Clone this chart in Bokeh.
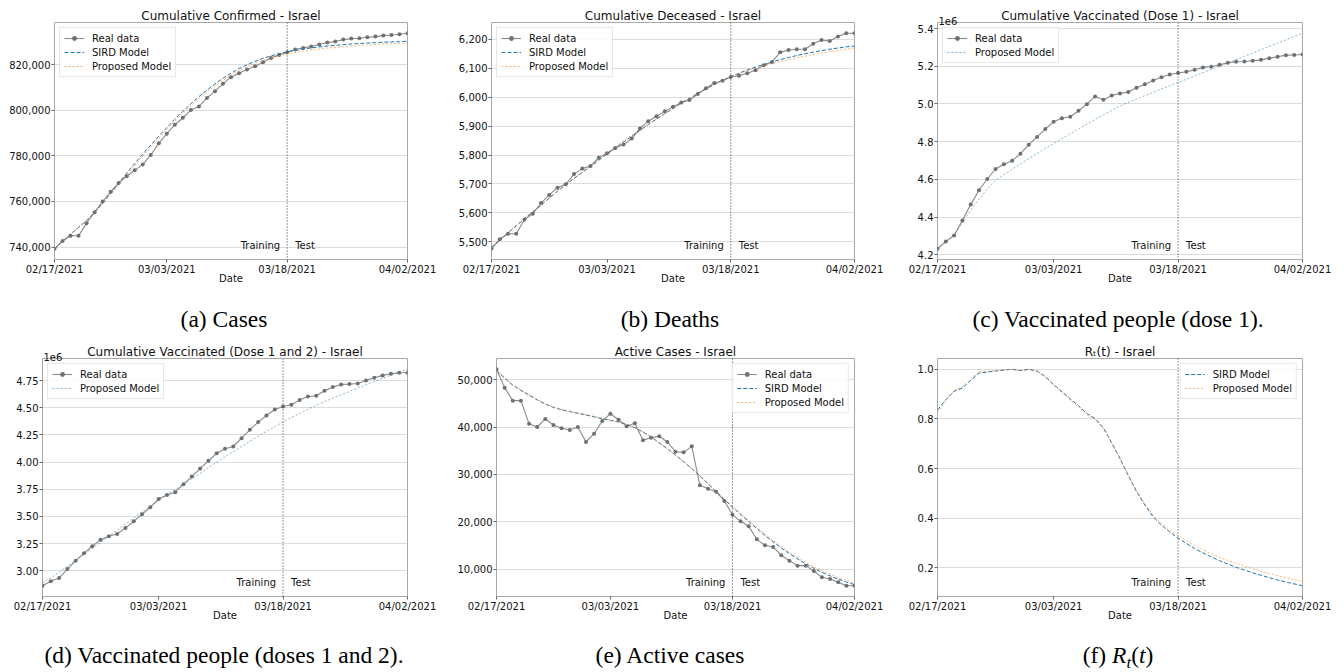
import pandas as pd
from bokeh.plotting import figure
from bokeh.models import (Range1d, FixedTicker, NumeralTickFormatter, CustomJSTickFormatter,
                          DatetimeTickFormatter, Span, Label, Legend, LegendItem, Div, Title)
from bokeh.layouts import column, row
from bokeh.embed import file_html
from bokeh.resources import INLINE

# ---------------- data ----------------
start_date = "2021-02-17"
end_date = "2021-04-02"
split_date = "2021-03-18"
x_tick_dates = ["2021-02-17", "2021-03-03", "2021-03-18", "2021-04-02"]
dates = pd.date_range(start_date, end_date, freq="D")

confirmed_real = [739270, 742620, 744950, 744950, 750490, 755300, 759960, 764190, 768120, 771040,
                  773660, 776140, 780360, 785460, 789690, 793620, 796680, 800040, 801640, 805280,
                  808340, 811550, 814460, 816210, 817810, 819270, 821020, 822910, 824230, 825390,
                  826560, 827290, 827870, 828750, 829620, 830060, 830930, 831370, 831510, 831950,
                  832240, 832680, 832970, 833260, 833700]
confirmed_sird = [739300, 742500, 745600, 748600, 751700, 755300, 759300, 763600, 768000, 772400,
                  776600, 780700, 784700, 788600, 792400, 796000, 799500, 802800, 805900, 808800,
                  811500, 814000, 816200, 818200, 819900, 821400, 822700, 823800, 824800, 825500,
                  826200, 826800, 827300, 827700, 828100, 828400, 828700, 829000, 829200, 829400,
                  829600, 829800, 829900, 830000, 830200]
confirmed_prop = [739300, 742600, 745800, 748800, 751700, 755000, 758800, 762900, 767200, 771500,
                  775700, 779800, 783800, 787700, 791500, 795100, 798600, 801900, 805000, 807900,
                  810600, 813100, 815300, 817300, 819000, 820500, 821800, 822900, 823800, 824600,
                  825300, 825900, 826400, 826800, 827200, 827500, 827800, 828100, 828300, 828600,
                  828800, 829000, 829100, 829300, 829400]

deaths_real = [5476, 5509, 5528, 5528, 5577, 5597, 5634, 5662, 5687, 5699, 5734, 5753, 5762, 5791,
               5806, 5824, 5836, 5857, 5892, 5917, 5934, 5951, 5967, 5982, 5990, 6011, 6031, 6049,
               6057, 6070, 6074, 6083, 6093, 6110, 6122, 6155, 6163, 6166, 6166, 6185, 6198, 6194,
               6210, 6221, 6221]
deaths_sird = [5480, 5506, 5531, 5555, 5579, 5603, 5626, 5651, 5675, 5697, 5719, 5740, 5760, 5782,
               5803, 5824, 5845, 5865, 5885, 5905, 5924, 5943, 5961, 5979, 5996, 6013, 6029, 6044,
               6058, 6071, 6083, 6094, 6104, 6113, 6122, 6130, 6137, 6144, 6150, 6156, 6161, 6166,
               6170, 6174, 6177]
deaths_prop = [5480, 5507, 5533, 5558, 5582, 5605, 5628, 5652, 5676, 5699, 5721, 5743, 5764, 5786,
               5807, 5828, 5849, 5869, 5888, 5907, 5925, 5943, 5961, 5978, 5995, 6011, 6027, 6042,
               6056, 6069, 6081, 6091, 6100, 6108, 6116, 6123, 6130, 6136, 6142, 6148, 6153, 6158,
               6162, 6166, 6170]

vacc1_real = [4232000, 4271000, 4302000, 4382000, 4466000, 4542000, 4602000, 4655000, 4680000,
              4699000, 4736000, 4784000, 4825000, 4867000, 4906000, 4924000, 4932000, 4964000,
              4999000, 5040000, 5022000, 5045000, 5056000, 5063000, 5086000, 5105000, 5125000,
              5142000, 5156000, 5164000, 5171000, 5181000, 5194000, 5197000, 5208000, 5218000,
              5224000, 5225000, 5229000, 5234000, 5243000, 5250000, 5259000, 5260000, 5262000]
vacc1_prop = [4232000, 4266000, 4302000, 4372000, 4437000, 4495000, 4548000, 4594000, 4625000,
              4654000, 4682000, 4710000, 4737000, 4764000, 4790000, 4816000, 4842000, 4868000,
              4893000, 4918000, 4942000, 4966000, 4989000, 5008000, 5026000, 5044000, 5062000,
              5080000, 5097000, 5114000, 5131000, 5148000, 5166000, 5183000, 5200000, 5218000,
              5235000, 5253000, 5270000, 5288000, 5305000, 5323000, 5340000, 5358000, 5375000]

vacc2_real = [2862000, 2902000, 2932000, 3015000, 3092000, 3160000, 3225000, 3286000, 3317000,
              3338000, 3394000, 3455000, 3520000, 3584000, 3661000, 3698000, 3723000, 3797000,
              3867000, 3941000, 4012000, 4082000, 4123000, 4144000, 4221000, 4298000, 4369000,
              4430000, 4485000, 4513000, 4528000, 4572000, 4605000, 4611000, 4658000, 4691000,
              4716000, 4719000, 4725000, 4753000, 4777000, 4799000, 4814000, 4824000, 4824000]
vacc2_prop = [2885000, 2935000, 2985000, 3040000, 3096000, 3152000, 3207000, 3262000, 3318000,
              3374000, 3430000, 3486000, 3541000, 3596000, 3650000, 3700000, 3748000, 3796000,
              3846000, 3897000, 3949000, 4000000, 4049000, 4097000, 4145000, 4192000, 4238000,
              4283000, 4327000, 4370000, 4410000, 4449000, 4487000, 4523000, 4557000, 4589000,
              4620000, 4651000, 4682000, 4713000, 4743000, 4772000, 4800000, 4828000, 4855000]

active_real = [52260, 48380, 45630, 45630, 40760, 40050, 41750, 40480, 39770, 39420, 40050, 36880,
               38640, 41320, 42870, 41600, 40190, 40830, 37230, 37800, 38080, 36880, 34830, 34690,
               35960, 27710, 27000, 26370, 24390, 21500, 20090, 19030, 16280, 15010, 14660, 12890,
               11760, 10710, 10710, 9580, 8240, 7880, 7180, 6470, 6470]
active_sird = [52000, 50400, 48900, 47800, 46800, 45800, 44900, 44200, 43700, 43300, 42950, 42600,
               42200, 41800, 41450, 41100, 40600, 39900, 39000, 37950, 36700, 35450, 34100, 32700,
               31250, 29650, 28050, 26350, 24700, 23100, 21550, 20050, 18550, 17100, 15750, 14450,
               13250, 12150, 11100, 10150, 9300, 8550, 7850, 7250, 6700]
active_prop = [52000, 50500, 49050, 47950, 46950, 45900, 45000, 44300, 43800, 43400, 43050, 42700,
               42300, 41900, 41500, 41150, 40650, 39950, 39000, 37950, 36700, 35450, 34100, 32750,
               31300, 29750, 28150, 26500, 24850, 23300, 21800, 20300, 18850, 17400, 16050, 14750,
               13550, 12450, 11450, 10500, 9650, 8900, 8200, 7600, 7100]

rt_sird = [0.836, 0.878, 0.912, 0.924, 0.955, 0.985, 0.989, 0.993, 0.997, 1.000, 0.995, 1.000,
           0.993, 0.971, 0.939, 0.910, 0.881, 0.853, 0.822, 0.802, 0.764, 0.704, 0.640, 0.572,
           0.507, 0.453, 0.405, 0.372, 0.344, 0.320, 0.298, 0.278, 0.260, 0.244, 0.229, 0.215,
           0.202, 0.191, 0.180, 0.170, 0.160, 0.151, 0.143, 0.135, 0.128]
rt_prop = [0.825, 0.872, 0.915, 0.930, 0.962, 0.990, 0.992, 0.995, 0.998, 1.000, 0.994, 0.999,
           0.992, 0.969, 0.936, 0.906, 0.877, 0.848, 0.817, 0.796, 0.760, 0.702, 0.640, 0.575,
           0.511, 0.458, 0.412, 0.380, 0.352, 0.330, 0.309, 0.290, 0.273, 0.257, 0.243, 0.230,
           0.218, 0.207, 0.196, 0.186, 0.177, 0.168, 0.160, 0.152, 0.145]

yticks_confirmed = [740000, 760000, 780000, 800000, 820000]
yticks_deaths = [5500, 5600, 5700, 5800, 5900, 6000, 6100, 6200]
yticks_vacc1 = [4200000, 4400000, 4600000, 4800000, 5000000, 5200000, 5400000]
yticks_vacc2 = [3000000, 3250000, 3500000, 3750000, 4000000, 4250000, 4500000, 4750000]
yticks_active = [10000, 20000, 30000, 40000, 50000]
yticks_rt = [0.2, 0.4, 0.6, 0.8, 1.0]

captions = ["(a) Cases", "(b) Deaths", "(c) Vaccinated people (dose 1).",
            "(d) Vaccinated people (doses 1 and 2).", "(e) Active cases",
            "(f) <i>R</i><span style=\"font-size:17px;position:relative;top:5px;\"><i>t</i></span>(<i>t</i>)"]

# ---------------- styling ----------------
BLUE = "#1f77b4"
ORANGE = "#ff7f0e"
FONT = "DejaVu Sans"


def ms(d):
    return pd.Timestamp(d).value / 1e6


def make_panel(title, real, models, yticks, yfmt, legend_loc, bl, br, width, height,
               offset_text=None):
    all_vals = (list(real) if real is not None else []) + [v for m in models for v in m[1]]
    lo, hi = min(all_vals), max(all_vals)
    pad = 0.05 * (hi - lo)
    p = figure(width=width, height=height, x_axis_type="datetime", output_backend="svg",
               toolbar_location=None, min_border_left=bl, min_border_right=br,
               min_border_top=22, min_border_bottom=33,
               x_range=Range1d(dates[0], dates[-1]), y_range=Range1d(lo - pad, hi + pad),
               title=title)
    p.title.text_font = FONT
    p.title.text_font_size = "12px"
    p.title.text_font_style = "normal"
    p.title.align = "center"
    p.title.standoff = -10 if offset_text else -1
    p.title.text_color = "#111111"

    items = []
    if real is not None:
        r1 = p.line(dates, real, line_color="#8a8a8a", line_width=1.1)
        r2 = p.scatter(dates, real, size=4, marker="circle", fill_color="#707070",
                       line_color=None)
        items.append(LegendItem(label="Real data", renderers=[r1, r2]))
    for (lab, vals, col, dash, alpha) in models:
        r = p.line(dates, vals, line_color=col, line_dash=dash, line_width=1.0, line_alpha=alpha)
        items.append(LegendItem(label=lab, renderers=[r]))

    leg = Legend(items=items, location=legend_loc)
    leg.label_text_font = FONT
    leg.label_text_font_size = "10px"
    leg.label_text_color = "#111111"
    leg.glyph_width = 20
    leg.glyph_height = 12
    leg.label_height = 12
    leg.spacing = 2
    leg.padding = 4
    leg.margin = 5
    leg.label_standoff = 8
    leg.border_line_color = "#d0d0d0"
    leg.border_line_width = 1
    leg.background_fill_alpha = 0.85
    p.add_layout(leg)

    split = ms(split_date)
    p.add_layout(Span(location=split, dimension="height", line_color="#333333",
                      line_dash="1 2", line_width=1))
    p.add_layout(Label(x=split, y=lo - pad, x_offset=-7, y_offset=14, text="Training",
                       text_align="right", text_baseline="middle", text_font=FONT,
                       text_font_size="10px", text_color="#111111"))
    p.add_layout(Label(x=split, y=lo - pad, x_offset=8, y_offset=14, text="Test",
                       text_align="left", text_baseline="middle", text_font=FONT,
                       text_font_size="10px", text_color="#111111"))
    if offset_text:
        p.add_layout(Title(text=offset_text, align="left", offset=1, text_font=FONT,
                           text_font_size="10px", text_font_style="normal",
                           text_color="#111111", standoff=-5), "above")

    xt = FixedTicker(ticks=[ms(d) for d in x_tick_dates])
    p.xaxis.ticker = xt
    p.xaxis.formatter = DatetimeTickFormatter(days="%m/%d/%Y", months="%m/%d/%Y",
                                              years="%m/%d/%Y", hours="%m/%d/%Y")
    p.xaxis.axis_label = "Date"
    yt = FixedTicker(ticks=yticks)
    p.yaxis.ticker = yt
    p.ygrid.ticker = yt
    p.yaxis.formatter = yfmt
    for ax in p.axis:
        ax.major_label_text_font = FONT
        ax.major_label_text_font_size = "10px"
        ax.major_label_text_color = "#111111"
        ax.axis_label_text_font = FONT
        ax.axis_label_text_font_size = "10px"
        ax.axis_label_text_font_style = "normal"
        ax.axis_label_text_color = "#111111"
        ax.axis_label_standoff = -5
        ax.major_label_standoff = 1
        ax.major_tick_out = 3
        ax.major_tick_in = 0
        ax.major_tick_line_color = "#666666"
        ax.minor_tick_line_color = None
        ax.axis_line_color = None
    p.xgrid.grid_line_color = None
    p.ygrid.grid_line_color = "#dcdcdc"
    p.ygrid.grid_line_width = 1.2
    p.outline_line_color = "#a8a8a8"
    p.outline_line_width = 1
    return p


H1, H2 = 292, 293

pa = make_panel("Cumulative Confirmed - Israel", confirmed_real,
                [("SIRD Model", confirmed_sird, BLUE, "4 2", 1.0),
                 ("Proposed Model", confirmed_prop, ORANGE, "2 2", 0.6)],
                yticks_confirmed, NumeralTickFormatter(format="0,0"), "top_left", 54, 41, 448, H1)
pb = make_panel("Cumulative Deceased - Israel", deaths_real,
                [("SIRD Model", deaths_sird, BLUE, "4 2", 1.0),
                 ("Proposed Model", deaths_prop, ORANGE, "2 2", 0.6)],
                yticks_deaths, NumeralTickFormatter(format="0,0"), "top_left", 43, 38, 444, H1)
pc = make_panel("Cumulative Vaccinated (Dose 1) - Israel", vacc1_real,
                [("Proposed Model", vacc1_prop, BLUE, "2 2", 0.55)],
                yticks_vacc1, CustomJSTickFormatter(code="return (tick/1e6).toFixed(1);"),
                "top_left", 45, 42, 452, H1, offset_text="1e6")
pd_ = make_panel("Cumulative Vaccinated (Dose 1 and 2) - Israel", vacc2_real,
                 [("Proposed Model", vacc2_prop, BLUE, "2 2", 0.55)],
                 yticks_vacc2, CustomJSTickFormatter(code="return (tick/1e6).toFixed(2);"),
                 "top_left", 42, 41, 448, H2, offset_text="1e6")
pe = make_panel("Active Cases - Israel", active_real,
                [("SIRD Model", active_sird, BLUE, "4 2", 1.0),
                 ("Proposed Model", active_prop, ORANGE, "2 2", 0.6)],
                yticks_active, NumeralTickFormatter(format="0,0"), "top_right", 48, 38, 444, H2)
pf = make_panel("R\u209c(t) - Israel", None,
                [("SIRD Model", rt_sird, BLUE, "4 2", 1.0),
                 ("Proposed Model", rt_prop, ORANGE, "2 2", 0.6)],
                yticks_rt, NumeralTickFormatter(format="0.0"), "top_right", 45, 42, 452, H2)


def cap(text, width, height, top):
    html = ('<div style="width:%dpx;font-family:\'Liberation Serif\',serif;font-size:23.5px;'
            'line-height:24px;text-align:center;color:#000;white-space:nowrap;'
            'margin:%dpx 0 0 0;">%s</div>' % (width, top, text))
    return Div(text=html, width=width, height=height, margin=0)


cap_row1 = row(cap(captions[0], 448, 44, 15), cap(captions[1], 444, 44, 15),
               cap(captions[2], 452, 44, 15), spacing=0)
cap_row2 = row(cap(captions[3], 448, 43, 14), cap(captions[4], 444, 43, 14),
               cap(captions[5], 452, 43, 14), spacing=0)

layout = column(row(pa, pb, pc, spacing=0), cap_row1, row(pd_, pe, pf, spacing=0), cap_row2,
                spacing=0)

open("out.html", "w").write(file_html(layout, INLINE))
